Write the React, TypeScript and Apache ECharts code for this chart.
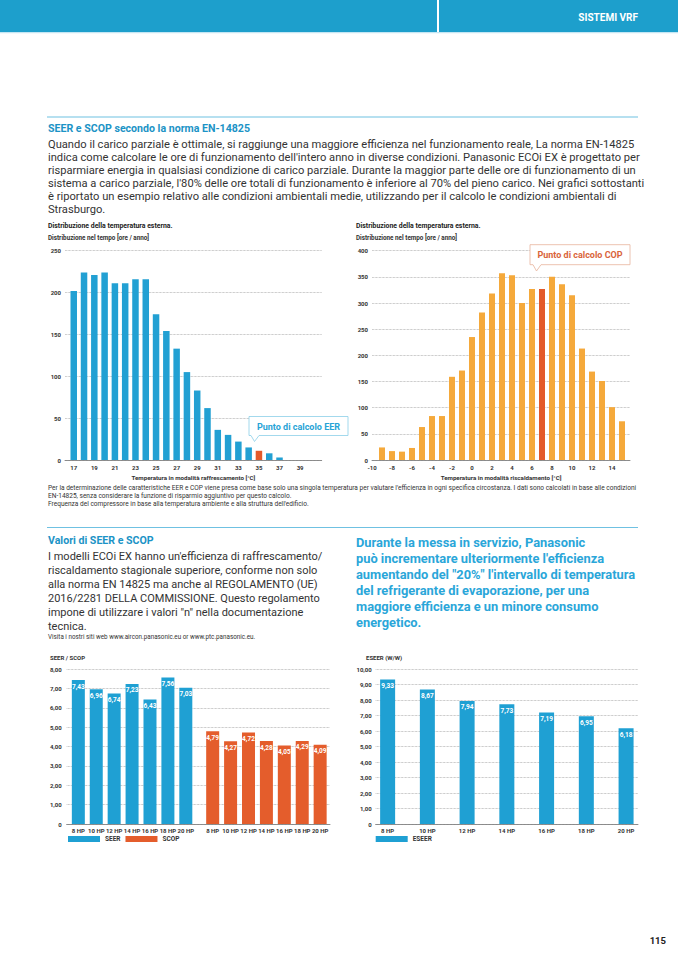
import React, { useEffect, useRef } from 'react';
import * as echarts from 'echarts';

// ---------- DATA ----------
const coolingTemps = [17, 18, 19, 20, 21, 22, 23, 24, 25, 26, 27, 28, 29, 30, 31, 32, 33, 34, 35, 36, 37];
const coolingHours = [202, 224, 221, 224, 211, 211, 216, 216, 174, 154, 133, 105, 83, 62, 36, 30, 22, 15, 11, 8, 3];
const coolingCalcTemp = 35;
const coolingTicks = [17, 19, 21, 23, 25, 27, 29, 31, 33, 35, 37, 39];

const heatingTemps = [-9, -8, -7, -6, -5, -4, -3, -2, -1, 0, 1, 2, 3, 4, 5, 6, 7, 8, 9, 10, 11, 12, 13, 14, 15];
const heatingHours = [24, 17, 16, 23, 63, 84, 84, 159, 171, 235, 282, 318, 357, 353, 300, 327, 327, 350, 336, 315, 213, 169, 151, 101, 74];
const heatingCalcTemp = 7;
const heatingTicks = [-10, -8, -6, -4, -2, 0, 2, 4, 6, 8, 10, 12, 14];

const units = ['8 HP', '10 HP', '12 HP', '14 HP', '16 HP', '18 HP', '20 HP'];
const seerValues = [7.43, 6.96, 6.74, 7.23, 6.43, 7.56, 7.03];
const scopValues = [4.79, 4.27, 4.72, 4.28, 4.05, 4.29, 4.09];
const eseerValues = [9.33, 8.67, 7.94, 7.73, 7.19, 6.95, 6.18];

// ---------- TEXT ----------
const introLines = [
  'Quando il carico parziale è ottimale, si raggiunge una maggiore efficienza nel funzionamento reale, La norma EN-14825',
  "indica come calcolare le ore di funzionamento dell'intero anno in diverse condizioni. Panasonic ECOi EX è progettato per",
  'risparmiare energia in qualsiasi condizione di carico parziale. Durante la maggior parte delle ore di funzionamento di un',
  "sistema a carico parziale, l'80% delle ore totali di funzionamento è inferiore al 70% del pieno carico. Nei grafici sottostanti",
  'è riportato un esempio relativo alle condizioni ambientali medie, utilizzando per il calcolo le condizioni ambientali di',
  'Strasburgo.',
];
const noteLines = [
  "Per la determinazione delle caratteristiche EER e COP viene presa come base solo una singola temperatura per valutare l'efficienza in ogni specifica circostanza. I dati sono calcolati in base alle condizioni",
  'EN-14825, senza considerare la funzione di risparmio aggiuntivo per questo calcolo.',
  "Frequenza del compressore in base alla temperatura ambiente e alla struttura dell'edificio.",
];
const valoriLines = [
  "I modelli ECOi EX hanno un'efficienza di raffrescamento/",
  'riscaldamento stagionale superiore, conforme non solo',
  'alla norma EN 14825 ma anche al REGOLAMENTO (UE)',
  '2016/2281 DELLA COMMISSIONE. Questo regolamento',
  'impone di utilizzare i valori "n" nella documentazione',
  'tecnica.',
];
const highlightLines = [
  'Durante la messa in servizio, Panasonic',
  "può incrementare ulteriormente l'efficienza",
  'aumentando del "20%" l\'intervallo di temperatura',
  'del refrigerante di evaporazione, per una',
  'maggiore efficienza e un minore consumo',
  'energetico.',
];

const BLUE = '#22a0d3';
const ORANGE = '#f5a93b';
const RED = '#e35a2a';
const TITLE_BLUE = '#1b93c6';
const FONT = 'Roboto';

const comma = (v: number) => (v === 0 ? '0' : v.toFixed(2).replace('.', ','));

function txt(x: number, y: number, text: string, size: number, weight: any, color: string, align = 'left') {
  return {
    type: 'text',
    x,
    y,
    z: 50,
    silent: true,
    style: {
      text,
      fill: color,
      fontSize: size,
      fontWeight: weight,
      fontFamily: FONT,
      align,
      verticalAlign: 'middle',
      textAlign: align,
      textVerticalAlign: 'middle',
    },
  };
}

export default function App() {
  const ref = useRef<HTMLDivElement>(null);

  useEffect(() => {
    if (!ref.current) return;
    const chart = echarts.init(ref.current, undefined, { renderer: 'svg' });

    const axisLabelBase = { fontSize: 6, fontWeight: 'bold', color: '#333', fontFamily: FONT };
    const splitDotted = { show: true, lineStyle: { type: 'dotted', color: '#9a9a9a', width: 0.7 } };
    const baseLine = { show: true, lineStyle: { color: '#777', width: 0.8 } };
    const barLabel = {
      show: true,
      position: 'insideTop',
      distance: 3,
      color: '#fff',
      fontSize: 6.5,
      fontWeight: 'bold',
      fontFamily: FONT,
      formatter: (p: any) => comma(p.value[1]),
    };

    const scopOffset = units.length + 0.5;
    const seerPos = units.map((_, i) => i);
    const scopPos = units.map((_, i) => i + scopOffset);

    const graphic: any[] = [
      { type: 'rect', shape: { x: 0, y: 0, width: 678, height: 32 }, style: { fill: '#1d9fcc' }, z: 40 },
      { type: 'rect', shape: { x: 437, y: 0, width: 2, height: 32 }, style: { fill: '#ffffff' }, z: 41 },
      { type: 'rect', shape: { x: 0, y: 32, width: 678, height: 1.2 }, style: { fill: '#c5e6f3' }, z: 41 },
      txt(638, 17, 'SISTEMI VRF', 10, 'bold', '#ffffff', 'right'),
      { type: 'rect', shape: { x: 47, y: 116.5, width: 591, height: 0.9 }, style: { fill: '#6fc1e2' }, z: 40 },
      txt(48, 128, 'SEER e SCOP secondo la norma EN-14825', 10.6, 'bold', TITLE_BLUE),
      ...introLines.map((l, i) => txt(48, 144 + i * 13, l, 11.15, 'normal', '#333')),
      txt(48, 225.5, 'Distribuzione della temperatura esterna.', 6.9, 'bold', '#222'),
      txt(48, 238, 'Distribuzione nel tempo [ore / anno]', 6.3, 'bold', '#333'),
      txt(356, 225.5, 'Distribuzione della temperatura esterna.', 6.9, 'bold', '#222'),
      txt(356, 238, 'Distribuzione nel tempo [ore / anno]', 6.3, 'bold', '#333'),
      ...noteLines.map((l, i) => txt(48, 488 + i * 8.2, l, 6.55, 'normal', '#333')),
      { type: 'rect', shape: { x: 47, y: 527, width: 591, height: 0.9 }, style: { fill: '#6fc1e2' }, z: 40 },
      txt(48, 540, 'Valori di SEER e SCOP', 10.6, 'bold', TITLE_BLUE),
      ...valoriLines.map((l, i) => txt(48, 556 + i * 14, l, 11, 'normal', '#333')),
      txt(48, 637, 'Visita i nostri siti web www.aircon.panasonic.eu or www.ptc.panasonic.eu.', 6.3, 'normal', '#333'),
      ...highlightLines.map((l, i) => txt(356, 542 + i * 16, l, 12.85, 'bold', '#2aa6d9')),
      txt(50, 657, 'SEER / SCOP', 6, 'bold', '#333'),
      txt(366, 657, 'ESEER (W/W)', 6, 'bold', '#333'),
      {
        type: 'polygon',
        z: 60,
        shape: {
          points: [
            [249, 416.5], [348, 416.5], [348, 435.5], [259, 435.5], [254.5, 441.5], [251, 435.5], [249, 435.5],
          ],
        },
        style: { fill: '#ffffff', stroke: '#8ccfe9', lineWidth: 0.8 },
      },
      { ...txt(298.5, 426.5, 'Punto di calcolo EER', 9, 'bold', '#27a3d6', 'center'), z: 61 },
      {
        type: 'polygon',
        z: 60,
        shape: {
          points: [
            [530, 244.7], [630, 244.7], [630, 264.7], [541, 264.7], [536.5, 271], [533, 264.7], [530, 264.7],
          ],
        },
        style: { fill: '#ffffff', stroke: '#e7b39c', lineWidth: 0.8 },
      },
      { ...txt(580, 255, 'Punto di calcolo COP', 9, 'bold', '#d9643a', 'center'), z: 61 },
      txt(666, 940, '115', 9.5, 'bold', '#222', 'right'),
    ];

    const option: any = {
      animation: false,
      backgroundColor: '#ffffff',
      textStyle: { fontFamily: FONT },
      graphic,
      legend: [
        {
          data: ['SEER', 'SCOP'],
          left: 68,
          top: 835.5,
          padding: 0,
          itemWidth: 32,
          itemHeight: 6,
          itemGap: 5,
          icon: 'rect',
          selectedMode: false,
          textStyle: { fontSize: 6.5, fontWeight: 'bold', color: '#333', fontFamily: FONT },
        },
        {
          data: ['ESEER'],
          left: 375.7,
          top: 835.5,
          padding: 0,
          itemWidth: 32,
          itemHeight: 6,
          icon: 'rect',
          selectedMode: false,
          textStyle: { fontSize: 6.5, fontWeight: 'bold', color: '#333', fontFamily: FONT },
        },
      ],
      grid: [
        { left: 65, top: 250.7, width: 256.7, height: 209.3 },
        { left: 372, top: 250.7, width: 258, height: 209.3 },
        { left: 66.7, top: 669, width: 263.3, height: 155 },
        { left: 375.7, top: 669, width: 262.3, height: 155 },
      ],
      xAxis: [
        {
          type: 'value',
          gridIndex: 0,
          min: 16.15,
          max: 41.1,
          axisLine: baseLine,
          axisTick: { show: false },
          splitLine: { show: false },
          axisLabel: { ...axisLabelBase, margin: 4, customValues: coolingTicks },
          name: 'Temperatura in modalità raffrescamento [°C]',
          nameLocation: 'middle',
          nameGap: 15,
          nameTextStyle: { fontSize: 6.2, fontWeight: 'bold', color: '#333', fontFamily: FONT },
        },
        {
          type: 'value',
          gridIndex: 1,
          min: -10,
          max: 15.8,
          axisLine: baseLine,
          axisTick: { show: false },
          splitLine: { show: false },
          axisLabel: { ...axisLabelBase, margin: 4, customValues: heatingTicks },
          name: 'Temperatura in modalità riscaldamento [°C]',
          nameLocation: 'middle',
          nameGap: 15,
          nameTextStyle: { fontSize: 6.2, fontWeight: 'bold', color: '#333', fontFamily: FONT },
        },
        {
          type: 'value',
          gridIndex: 2,
          min: -0.65,
          max: 14.05,
          axisLine: baseLine,
          axisTick: { show: false },
          splitLine: { show: false },
          axisLabel: {
            ...axisLabelBase,
            margin: 3,
            customValues: [...seerPos, ...scopPos],
            formatter: (v: number) => {
              const i = v < scopOffset - 0.25 ? Math.round(v) : Math.round(v - scopOffset);
              return units[i] ?? '';
            },
          },
        },
        {
          type: 'value',
          gridIndex: 3,
          min: -0.3,
          max: 6.3,
          axisLine: baseLine,
          axisTick: { show: false },
          splitLine: { show: false },
          axisLabel: {
            ...axisLabelBase,
            margin: 3,
            customValues: units.map((_, i) => i),
            formatter: (v: number) => units[Math.round(v)] ?? '',
          },
        },
      ],
      yAxis: [
        {
          type: 'value', gridIndex: 0, min: 0, max: 250, interval: 50,
          axisLine: { show: false }, axisTick: { show: false }, splitLine: splitDotted,
          axisLabel: { ...axisLabelBase, margin: 4 },
        },
        {
          type: 'value', gridIndex: 1, min: 0, max: 400, interval: 50,
          axisLine: { show: false }, axisTick: { show: false }, splitLine: splitDotted,
          axisLabel: { ...axisLabelBase, margin: 4 },
        },
        {
          type: 'value', gridIndex: 2, min: 0, max: 8, interval: 1,
          axisLine: { show: false }, axisTick: { show: false }, splitLine: splitDotted,
          axisLabel: { ...axisLabelBase, margin: 5, formatter: comma },
        },
        {
          type: 'value', gridIndex: 3, min: 0, max: 10, interval: 1,
          axisLine: { show: false }, axisTick: { show: false }, splitLine: splitDotted,
          axisLabel: { ...axisLabelBase, margin: 4, formatter: comma },
        },
      ],
      series: [
        {
          name: 'Raffrescamento',
          type: 'bar',
          xAxisIndex: 0,
          yAxisIndex: 0,
          barWidth: 6.5,
          itemStyle: { color: BLUE },
          data: coolingTemps.map((t, i) => ({
            value: [t, coolingHours[i]],
            itemStyle: t === coolingCalcTemp ? { color: RED } : undefined,
          })),
        },
        {
          name: 'Riscaldamento',
          type: 'bar',
          xAxisIndex: 1,
          yAxisIndex: 1,
          barWidth: 6,
          itemStyle: { color: ORANGE },
          data: heatingTemps.map((t, i) => ({
            value: [t, heatingHours[i]],
            itemStyle: t === heatingCalcTemp ? { color: RED } : undefined,
          })),
        },
        {
          name: 'SEER',
          type: 'bar',
          xAxisIndex: 2,
          yAxisIndex: 2,
          barWidth: 13,
          barGap: '-100%',
          itemStyle: { color: '#1fa0d3' },
          label: barLabel,
          data: seerValues.map((v, i) => [seerPos[i], v]),
        },
        {
          name: 'SCOP',
          type: 'bar',
          xAxisIndex: 2,
          yAxisIndex: 2,
          barWidth: 13,
          barGap: '-100%',
          itemStyle: { color: '#e45d2c' },
          label: barLabel,
          data: scopValues.map((v, i) => [scopPos[i], v]),
        },
        {
          name: 'ESEER',
          type: 'bar',
          xAxisIndex: 3,
          yAxisIndex: 3,
          barWidth: 15,
          itemStyle: { color: '#1fa0d3' },
          label: barLabel,
          data: eseerValues.map((v, i) => [i, v]),
        },
      ],
    };

    chart.setOption(option);
    return () => chart.dispose();
  }, []);

  return (
    <div
      ref={ref}
      style={{ position: 'absolute', left: 0, top: 0, width: 678, height: 959, background: '#fff' }}
    />
  );
}
